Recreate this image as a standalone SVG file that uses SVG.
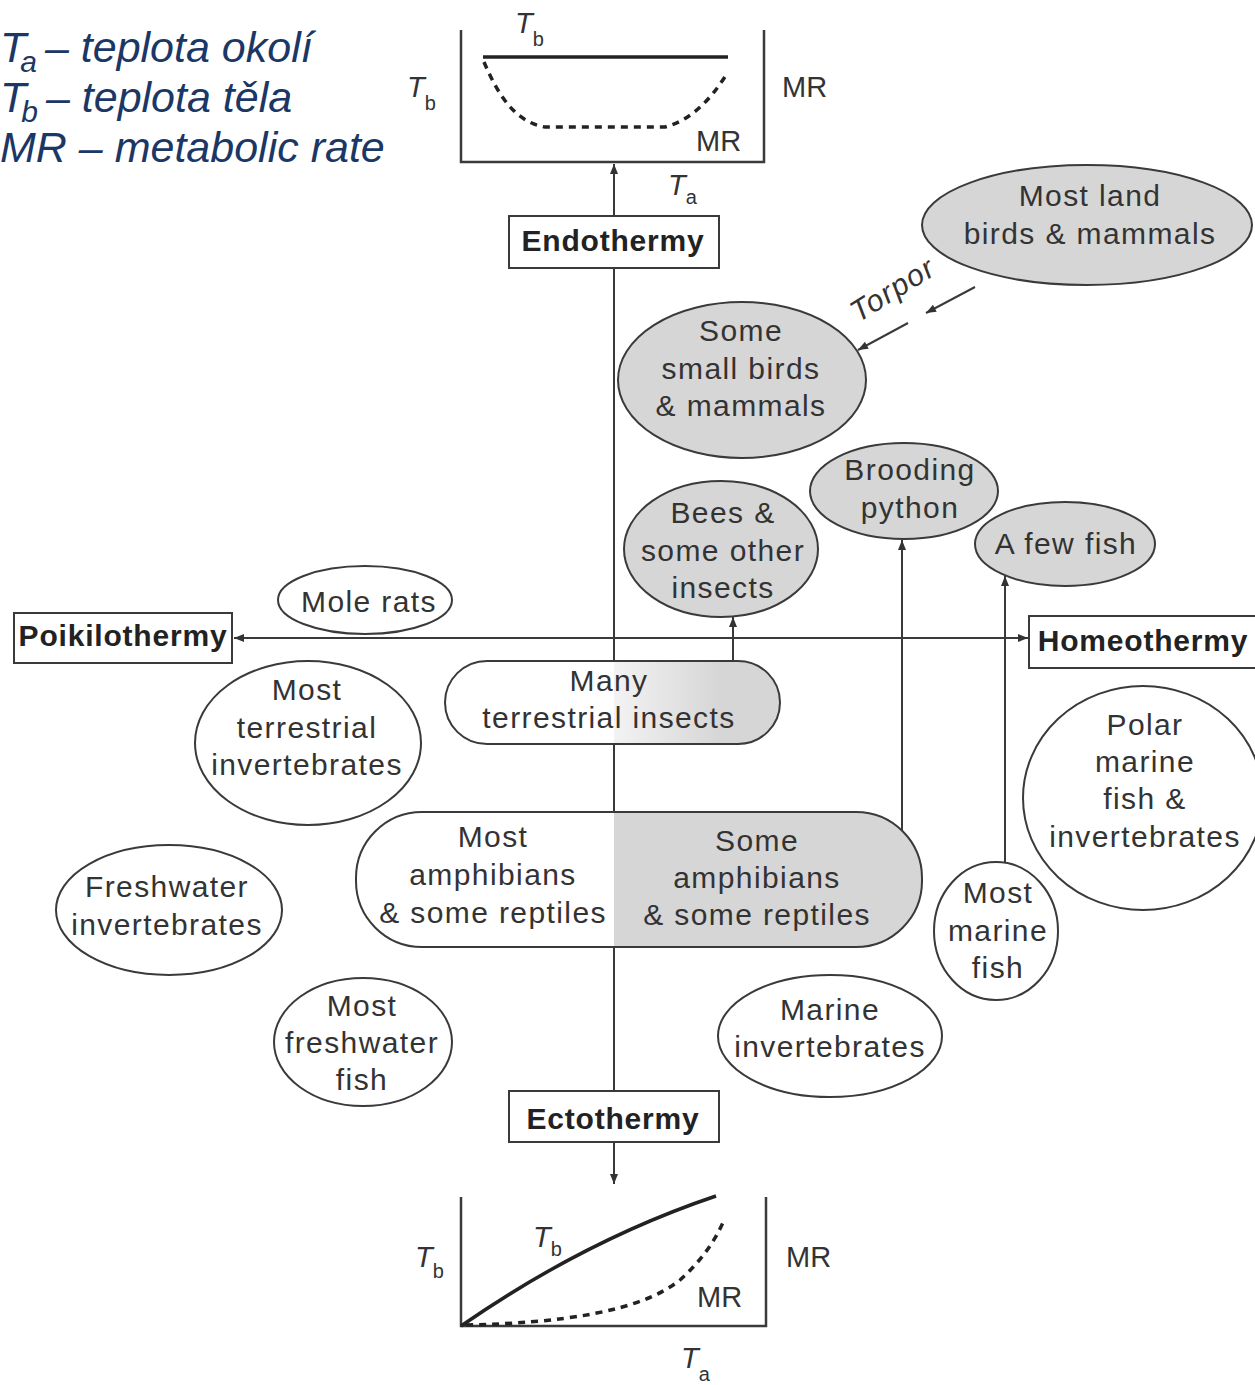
<svg xmlns="http://www.w3.org/2000/svg" width="1255" height="1385" viewBox="0 0 1255 1385">
<defs>
<style>
.bg{fill:#fff}
.ln{stroke:#3a3a3a;stroke-width:2;fill:none}
.ax{stroke:#3a3a3a;stroke-width:2.5;fill:none}
.sh{stroke:#3a3a3a;stroke-width:2}
.w{fill:#fff}
.g{fill:#d6d6d6}
.t{font-family:"Liberation Sans",Arial,sans-serif;font-size:30px;fill:#333;text-anchor:middle;letter-spacing:1.4px}
.b{font-family:"Liberation Sans",Arial,sans-serif;font-size:30px;fill:#222;text-anchor:middle;font-weight:bold;letter-spacing:0.8px}
.lb{font-family:"Liberation Sans",Arial,sans-serif;font-size:29px;fill:#333}
.it{font-style:italic}
.sub{font-size:20px;font-style:normal}
.leg{font-family:"Liberation Sans",Arial,sans-serif;font-style:italic;font-size:43px;fill:#1a3766}
</style>
<marker id="ah" viewBox="0 0 10 10" refX="10" refY="5" markerWidth="12" markerHeight="10" markerUnits="userSpaceOnUse" orient="auto">
<path d="M0,1 L10,5 L0,9 z" fill="#333"/>
</marker>
<clipPath id="cAmph"><rect x="356" y="812" width="566" height="135" rx="66" ry="66"/></clipPath>
<clipPath id="cMany"><rect x="445" y="661" width="335" height="83" rx="42" ry="42"/></clipPath>
<linearGradient id="gMany" x1="614" y1="0" x2="720" y2="0" gradientUnits="userSpaceOnUse">
<stop offset="0" stop-color="#d6d6d6" stop-opacity="0.3"/>
<stop offset="1" stop-color="#d6d6d6"/>
</linearGradient>
</defs>
<rect class="bg" x="0" y="0" width="1255" height="1385"/>

<g id="legend">
<text class="leg" x="0" y="62">T<tspan font-size="30" dx="-6" dy="10">a</tspan><tspan dx="-4" dy="-10"> – teplota okolí</tspan></text>
<text class="leg" x="0" y="112">T<tspan font-size="30" dx="-5" dy="10">b</tspan><tspan dx="-4" dy="-10"> – teplota těla</tspan></text>
<text class="leg" x="0" y="162">MR – metabolic rate</text>
</g>

<g id="graph-endothermy">
<path class="ax" d="M461,30 V162 H764 V30"/>
<line x1="483" y1="57" x2="728" y2="57" stroke="#222" stroke-width="3.5"/>
<path d="M484,62 C498,95 515,122 545,127 L665,127 C692,120 712,98 728,72" fill="none" stroke="#222" stroke-width="3.5" stroke-dasharray="7,6"/>
<text class="lb" x="515" y="33"><tspan class="it">T</tspan><tspan class="sub" dy="13">b</tspan></text>
<text class="lb" x="407" y="97"><tspan class="it">T</tspan><tspan class="sub" dy="13">b</tspan></text>
<text class="lb" x="782" y="97">MR</text>
<text class="lb" x="696" y="151">MR</text>
<text class="lb" x="668" y="195"><tspan class="it">T</tspan><tspan class="sub" dy="9">a</tspan></text>
</g>

<g id="graph-ectothermy">
<path class="ax" d="M461,1197 V1326 H766 V1197"/>
<path d="M461,1326 Q585,1240 716,1196" fill="none" stroke="#222" stroke-width="3.5"/>
<path d="M466,1325 C560,1323 640,1312 680,1280 C700,1262 715,1242 725,1218" fill="none" stroke="#222" stroke-width="3.5" stroke-dasharray="7,6"/>
<text class="lb" x="415" y="1267"><tspan class="it">T</tspan><tspan class="sub" dy="11">b</tspan></text>
<text class="lb" x="533" y="1247"><tspan class="it">T</tspan><tspan class="sub" dy="9">b</tspan></text>
<text class="lb" x="786" y="1267">MR</text>
<text class="lb" x="697" y="1307">MR</text>
<text class="lb" x="681" y="1368"><tspan class="it">T</tspan><tspan class="sub" dy="13">a</tspan></text>
</g>

<g id="connectors">
<line class="ln" x1="614" y1="216" x2="614" y2="164" marker-end="url(#ah)"/>
<line class="ln" x1="614" y1="268" x2="614" y2="1091"/>
<line class="ln" x1="614" y1="1142" x2="614" y2="1184" marker-end="url(#ah)"/>
<line class="ln" x1="614" y1="638" x2="234" y2="638" marker-end="url(#ah)"/>
<line class="ln" x1="614" y1="638" x2="1028" y2="638" marker-end="url(#ah)"/>
<line class="ln" x1="733" y1="661" x2="733" y2="617" marker-end="url(#ah)"/>
<line class="ln" x1="902" y1="830" x2="902" y2="540" marker-end="url(#ah)"/>
<line class="ln" x1="1005" y1="862" x2="1005" y2="576" marker-end="url(#ah)"/>
<line class="ln" x1="975" y1="287" x2="926" y2="313" marker-end="url(#ah)"/>
<line class="ln" x1="908" y1="323" x2="858" y2="350" marker-end="url(#ah)"/>
<text class="t it" transform="translate(898,298) rotate(-32)">Torpor</text>
</g>

<g id="endothermy">
<rect class="sh w" x="509" y="216" width="210" height="52"/>
<text class="b" x="613" y="251">Endothermy</text>
</g>
<g id="ectothermy">
<rect class="sh w" x="509" y="1091" width="210" height="51"/>
<text class="b" x="613" y="1129">Ectothermy</text>
</g>
<g id="poikilothermy">
<rect class="sh w" x="14" y="613" width="218" height="50"/>
<text class="b" x="123" y="646">Poikilothermy</text>
</g>
<g id="homeothermy">
<rect class="sh w" x="1029" y="616" width="232" height="52"/>
<text class="b" x="1143" y="651">Homeothermy</text>
</g>

<g id="most-land-birds">
<ellipse class="sh g" cx="1087" cy="225" rx="165" ry="60"/>
<text class="t" x="1090" y="206">Most land</text>
<text class="t" x="1090" y="244">birds &amp; mammals</text>
</g>
<g id="some-small-birds">
<ellipse class="sh g" cx="742" cy="380" rx="124" ry="78"/>
<text class="t" x="741" y="341">Some</text>
<text class="t" x="741" y="379">small birds</text>
<text class="t" x="741" y="416">&amp; mammals</text>
</g>
<g id="brooding-python">
<ellipse class="sh g" cx="904" cy="491" rx="94" ry="48"/>
<text class="t" x="910" y="480">Brooding</text>
<text class="t" x="910" y="518">python</text>
</g>
<g id="bees">
<ellipse class="sh g" cx="721" cy="549" rx="97" ry="68"/>
<text class="t" x="723" y="523">Bees &amp;</text>
<text class="t" x="723" y="561">some other</text>
<text class="t" x="723" y="598">insects</text>
</g>
<g id="a-few-fish">
<ellipse class="sh g" cx="1065" cy="544" rx="90" ry="42"/>
<text class="t" x="1066" y="554">A few fish</text>
</g>
<g id="mole-rats">
<ellipse class="sh w" cx="365" cy="600" rx="87" ry="34"/>
<text class="t" x="369" y="612">Mole rats</text>
</g>
<g id="most-terrestrial-invertebrates">
<ellipse class="sh w" cx="308" cy="743" rx="113" ry="82"/>
<text class="t" x="307" y="700">Most</text>
<text class="t" x="307" y="738">terrestrial</text>
<text class="t" x="307" y="775">invertebrates</text>
</g>
<g id="many-terrestrial-insects">
<rect class="w" x="445" y="661" width="335" height="83" rx="42" ry="42"/>
<rect x="614" y="655" width="175" height="95" fill="url(#gMany)" clip-path="url(#cMany)"/>
<rect class="sh" fill="none" x="445" y="661" width="335" height="83" rx="42" ry="42"/>
<text class="t" x="609" y="691">Many</text>
<text class="t" x="609" y="728">terrestrial insects</text>
</g>
<g id="amphibians">
<rect class="w" x="356" y="812" width="566" height="135" rx="66" ry="66"/>
<rect class="g" x="614" y="805" width="320" height="150" clip-path="url(#cAmph)"/>
<rect class="sh" fill="none" x="356" y="812" width="566" height="135" rx="66" ry="66"/>
<text class="t" x="493" y="847">Most</text>
<text class="t" x="493" y="885">amphibians</text>
<text class="t" x="493" y="923">&amp; some reptiles</text>
<text class="t" x="757" y="851">Some</text>
<text class="t" x="757" y="888">amphibians</text>
<text class="t" x="757" y="925">&amp; some reptiles</text>
</g>
<g id="polar-marine">
<ellipse class="sh w" cx="1143" cy="798" rx="120" ry="112"/>
<text class="t" x="1145" y="735">Polar</text>
<text class="t" x="1145" y="772">marine</text>
<text class="t" x="1145" y="809">fish &amp;</text>
<text class="t" x="1145" y="847">invertebrates</text>
</g>
<g id="most-marine-fish">
<ellipse class="sh w" cx="996" cy="931" rx="62" ry="69"/>
<text class="t" x="998" y="903">Most</text>
<text class="t" x="998" y="941">marine</text>
<text class="t" x="998" y="978">fish</text>
</g>
<g id="freshwater-invertebrates">
<ellipse class="sh w" cx="169" cy="910" rx="113" ry="65"/>
<text class="t" x="167" y="897">Freshwater</text>
<text class="t" x="167" y="935">invertebrates</text>
</g>
<g id="most-freshwater-fish">
<ellipse class="sh w" cx="363" cy="1042" rx="89" ry="64"/>
<text class="t" x="362" y="1016">Most</text>
<text class="t" x="362" y="1053">freshwater</text>
<text class="t" x="362" y="1090">fish</text>
</g>
<g id="marine-invertebrates">
<ellipse class="sh w" cx="830" cy="1036" rx="112" ry="61"/>
<text class="t" x="830" y="1020">Marine</text>
<text class="t" x="830" y="1057">invertebrates</text>
</g>
</svg>
